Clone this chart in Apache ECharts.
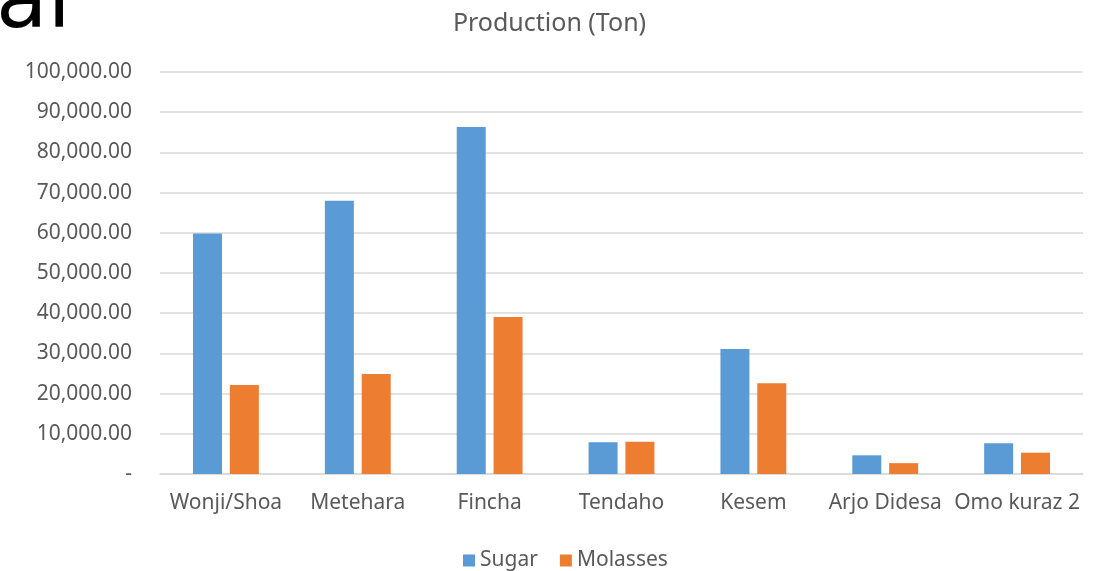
<!DOCTYPE html>
<html>
<head>
<meta charset="utf-8">
<script src="https://cdn.jsdelivr.net/npm/echarts@6/dist/echarts.min.js"></script>
<style>
    html, body { margin: 0; padding: 0; background: #fff; }
    #main { width: 1099px; height: 571px; }
</style>
</head>
<body>
<div id="main"></div>
<script>
// 数据部分
var factories = ['Wonji/Shoa', 'Metehara', 'Fincha', 'Tendaho', 'Kesem', 'Arjo Didesa', 'Omo kuraz 2'];
var sugar = [59800, 68000, 86300, 7900, 31100, 4650, 7650];
var molasses = [22150, 24850, 39050, 8000, 22600, 2700, 5300];

var myChart = echarts.init(document.getElementById('main'));
var textColor = '#595959';
var font = '"Noto Sans", "Open Sans", sans-serif';

var option = {
    animation: false,
    title: {
        text: 'Production (Ton)',
        left: 'center',
        top: 6,
        textStyle: { color: textColor, fontSize: 25, fontWeight: 'normal', fontFamily: font }
    },
    // 左上角被裁切的幻灯片标题
    graphic: [{
        type: 'text',
        left: -4,
        top: -37,
        style: { text: 'al', fontSize: 84, fontFamily: '"DejaVu Sans", sans-serif', fill: '#000' }
    }],
    legend: {
        data: ['Sugar', 'Molasses'],
        top: 545,
        left: 458,
        itemWidth: 12,
        itemHeight: 12,
        itemGap: 22,
        icon: 'rect',
        textStyle: { color: textColor, fontSize: 21, fontFamily: font }
    },
    grid: {
        left: 160,
        right: 16,
        top: 72,
        bottom: 97
    },
    xAxis: {
        type: 'category',
        data: factories,
        axisTick: { show: false },
        axisLine: { lineStyle: { color: '#d9d9d9', width: 1.5 } },
        axisLabel: { color: textColor, fontSize: 21, fontFamily: font, margin: 19, interval: 0 }
    },
    yAxis: {
        type: 'value',
        min: 0,
        max: 100000,
        interval: 10000,
        axisLine: { show: false },
        axisTick: { show: false },
        splitLine: { lineStyle: { color: '#d9d9d9', width: 1.5 } },
        axisLabel: {
            color: textColor,
            fontSize: 21,
            fontFamily: font,
            margin: 28,
            formatter: function (v) {
                if (v === 0) return '-';
                return v.toLocaleString('en-US', { minimumFractionDigits: 2, maximumFractionDigits: 2 });
            }
        }
    },
    series: [
        {
            name: 'Sugar',
            type: 'bar',
            data: sugar,
            barWidth: '22%',
            barGap: '27%',
            itemStyle: { color: '#5b9bd5' }
        },
        {
            name: 'Molasses',
            type: 'bar',
            data: molasses,
            barWidth: '22%',
            itemStyle: { color: '#ed7d31' }
        }
    ]
};
myChart.setOption(option);
</script>
</body>
</html>
